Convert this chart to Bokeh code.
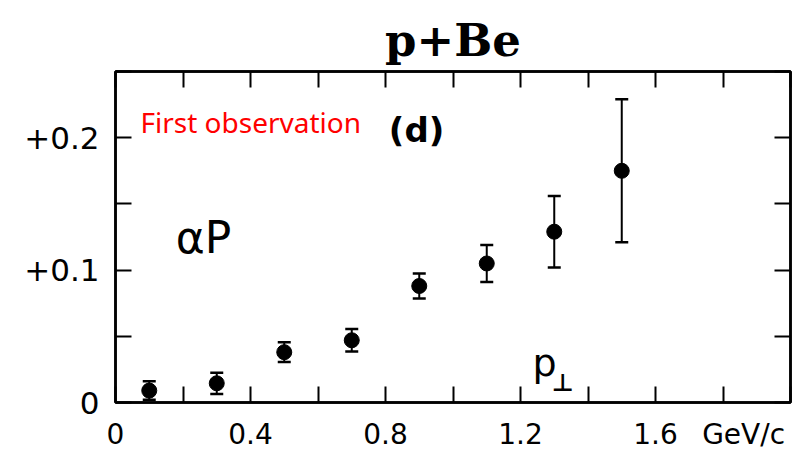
from bokeh.plotting import figure
from bokeh.models import (LinearAxis, FixedTicker, Whisker, TeeHead, ColumnDataSource,
                          Label, CustomJSTickFormatter)
from bokeh.embed import file_html
from bokeh.resources import INLINE

# data
pt = [0.1, 0.3, 0.5, 0.7, 0.9, 1.1, 1.3, 1.5]
alpha_p = [0.009, 0.0145, 0.038, 0.047, 0.088, 0.105, 0.129, 0.175]
err = [0.007, 0.008, 0.0075, 0.0085, 0.0095, 0.014, 0.027, 0.054]

x_ticks = [0.0, 0.2, 0.4, 0.6, 0.8, 1.0, 1.2, 1.4, 1.6, 1.8, 2.0]
x_label_pos = [0.0, 0.4, 0.8, 1.2, 1.6, 1.861]
x_label_text = ["0", "0.4", "0.8", "1.2", "1.6", "GeV/c"]
y_ticks = [0.0, 0.05, 0.1, 0.15, 0.2, 0.25]
y_tick_labels = {0.0: "0", 0.1: "+0.1", 0.2: "+0.2"}

src = ColumnDataSource(dict(
    x=pt, y=alpha_p,
    upper=[v + e for v, e in zip(alpha_p, err)],
    lower=[v - e for v, e in zip(alpha_p, err)],
))

p = figure(width=798, height=455, x_range=(0, 2.0), y_range=(0, 0.25),
           output_backend="svg", toolbar_location=None,
           min_border_left=115, min_border_right=8, min_border_top=71, min_border_bottom=53,
           x_axis_type=None, y_axis_type=None)
p.xgrid.visible = False
p.ygrid.visible = False
p.outline_line_color = "black"
p.outline_line_width = 2.5
p.background_fill_color = "white"
p.border_fill_color = "white"

p.title.text = "p+Be"
p.title.align = "center"
p.title.offset = 8
p.title.text_font = "DejaVu Serif"
p.title.text_font_style = "bold"
p.title.text_font_size = "45px"
p.title.text_color = "black"
p.title.standoff = 9

tick_font = "DejaVu Sans"


def style_axis(ax, ticks, labels, size):
    ax.ticker = FixedTicker(ticks=ticks)
    ax.major_tick_in = 16
    ax.major_tick_out = 0
    ax.minor_tick_in = 0
    ax.minor_tick_out = 0
    ax.major_tick_line_width = 2
    ax.axis_line_width = 2.5
    ax.major_tick_line_color = "black"
    ax.axis_line_color = "black"
    if labels is None:
        ax.formatter = CustomJSTickFormatter(code="return ''")
        ax.major_label_standoff = 0
    else:
        full = {t: labels.get(t, "") for t in ticks}
        ax.major_label_overrides = full
        ax.major_label_text_font = tick_font
        ax.major_label_text_font_size = size
        ax.major_label_text_color = "black"


# bottom axis: labels on major ticks (marks hidden), tick marks drawn as minor ticks
xb = LinearAxis()
xb.ticker = FixedTicker(ticks=x_label_pos, minor_ticks=x_ticks)
xb.major_label_overrides = dict(zip(x_label_pos, x_label_text))
xb.major_tick_in = 0
xb.major_tick_out = 0
xb.major_tick_line_color = None
xb.minor_tick_in = 16
xb.minor_tick_out = 0
xb.minor_tick_line_width = 2
xb.minor_tick_line_color = "black"
xb.axis_line_width = 2.5
xb.axis_line_color = "black"
xb.major_label_text_font = tick_font
xb.major_label_text_font_size = "28px"
xb.major_label_text_color = "black"
xb.major_label_standoff = 15
p.add_layout(xb, "below")

yl = LinearAxis()
style_axis(yl, y_ticks, y_tick_labels, "31px")
yl.major_label_standoff = 16
p.add_layout(yl, "left")

xt = LinearAxis()
style_axis(xt, x_ticks, None, "0px")
p.add_layout(xt, "above")

yr = LinearAxis()
style_axis(yr, y_ticks, None, "0px")
p.add_layout(yr, "right")

# error bars and points
wh = Whisker(source=src, base="x", upper="upper", lower="lower", dimension="height",
             line_color="black", line_width=2,
             upper_head=TeeHead(size=13, line_width=2.5, line_color="black"),
             lower_head=TeeHead(size=13, line_width=2.5, line_color="black"))
p.add_layout(wh)
p.scatter("x", "y", source=src, size=15, color="black")

# annotations inside the frame
p.add_layout(Label(x=0.074, y=0.2115, text="First observation",
                   text_font="Noto Sans", text_font_size="28px", text_color="#ff0000",
                   text_baseline="alphabetic", text_align="left"))
p.add_layout(Label(x=0.892, y=0.206, text="(d)",
                   text_font=tick_font, text_font_style="bold", text_font_size="34px",
                   text_color="black", text_baseline="middle", text_align="center"))
p.add_layout(Label(x=0.261, y=0.125, text="αP",
                   text_font=tick_font, text_font_size="44px",
                   text_color="black", text_baseline="middle", text_align="center"))
p.add_layout(Label(x=1.271, y=0.0296, text="p",
                   text_font=tick_font, text_font_size="38px",
                   text_color="black", text_baseline="alphabetic", text_align="center"))
p.add_layout(Label(x=1.325, y=0.015, text="⊥",
                   text_font=tick_font, text_font_style="bold", text_font_size="24px",
                   text_color="black", text_baseline="alphabetic", text_align="center"))

open("out.html", "w").write(file_html(p, INLINE))
